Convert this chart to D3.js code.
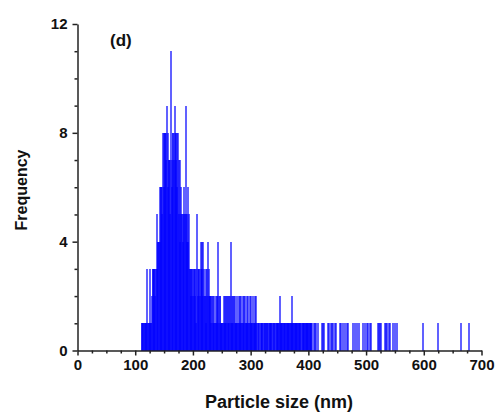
<!DOCTYPE html>
<html>
<head>
<meta charset="utf-8">
<script src="https://cdn.jsdelivr.net/npm/d3@7"></script>
<style>
  body { margin: 0; background: #fff; }
  text { font-family: "Liberation Sans", Arial, sans-serif; font-weight: bold; fill: #111; }
</style>
</head>
<body>
<div class="canva"></div>
<script>
// particle size (nm) of each bin, 1 nm wide
const sizes = [
  112,113,114,115,116,117,118,119,120,121,122,123,124,125,126,127,128,129,130,
  131,132,133,134,135,136,137,138,139,140,141,142,143,144,145,146,147,148,149,150,
  151,152,153,154,155,156,157,158,159,160,161,162,163,164,165,166,167,168,169,170,
  171,172,173,174,175,176,177,178,179,180,181,182,183,184,185,186,187,188,189,190,
  191,192,193,194,195,196,197,198,199,200,201,202,203,204,205,206,207,208,209,210,
  211,212,213,214,215,216,217,218,219,220,221,222,223,224,225,226,227,228,229,230,
  231,232,233,234,235,236,237,238,239,240,241,242,243,244,245,246,247,248,249,250,
  251,252,253,254,255,256,257,258,259,260,261,262,263,264,265,266,267,268,269,270,
  271,272,273,274,275,276,277,278,279,280,281,282,283,284,285,286,287,288,289,290,
  291,292,293,294,295,296,297,298,299,300,301,302,303,304,305,306,307,308,309,310,
  311,312,313,315,316,318,319,320,321,323,324,325,326,328,329,330,
  331,332,334,335,336,337,338,340,341,342,343,344,346,347,348,349,350,
  351,352,353,354,355,356,357,358,359,360,361,362,363,364,365,366,367,368,369,370,
  371,372,373,374,375,376,377,378,379,380,381,382,383,384,385,386,387,388,390,
  391,392,393,394,395,396,397,398,399,400,401,402,403,404,405,406,408,410,
  412,414,418,424,426,428,435,437,440,442,444,447,449,456,458,461,464,467,470,
  479,482,485,488,496,499,502,505,508,510,521,523,525,527,533,535,537,540,542,
  548,551,555,599,625,666,679
];

// frequency of each bin
const counts = [
  1,1,1,1,1,1,1,1,1,3,1,1,1,1,1,3,1,1,2,
  3,3,3,3,2,3,3,5,3,4,4,4,6,4,6,6,5,6,8,8,
  6,8,8,7,8,9,8,6,7,7,5,7,11,7,6,8,8,7,8,9,
  8,7,8,6,8,7,5,7,4,5,6,5,4,5,6,5,5,9,5,4,
  5,6,4,5,3,3,2,3,3,3,2,3,3,2,3,1,3,5,3,2,
  3,3,2,4,3,4,3,4,2,3,2,2,1,3,2,3,4,2,3,2,
  2,1,2,2,1,2,1,2,1,2,1,2,1,2,4,1,2,2,1,1,
  1,1,1,1,2,1,2,2,1,2,1,2,2,1,2,1,4,2,1,2,
  1,2,1,2,1,1,2,1,1,1,2,1,2,1,2,1,2,1,2,1,
  2,1,1,2,1,2,1,1,2,1,1,2,1,1,2,1,1,2,1,1,
  2,1,1,1,1,1,1,1,1,1,1,1,1,1,1,1,
  1,1,1,1,1,1,1,1,1,1,1,1,1,1,1,1,1,
  2,1,1,1,1,1,1,1,1,1,1,1,1,1,1,1,1,1,1,1,
  1,2,1,1,1,1,1,1,1,1,1,1,1,1,1,1,1,1,1,
  1,1,1,1,1,1,1,1,1,1,1,1,1,1,1,1,1,1,
  1,1,1,1,1,1,1,1,1,1,1,1,1,1,1,1,1,1,1,
  1,1,1,1,1,1,1,1,1,1,1,1,1,1,1,1,1,1,1,
  1,1,1,1,1,1,1
];

const xMajor = [0, 100, 200, 300, 400, 500, 600, 700];
const xMinor = [25, 50, 75, 125, 150, 175, 225, 250, 275, 325, 350, 375, 425, 450, 475, 525, 550, 575, 625, 650, 675];
const yMajor = [0, 4, 8, 12];
const yMinor = [1, 2, 3, 5, 6, 7, 9, 10, 11];

const data = sizes.map((s, i) => ({size: s, freq: counts[i]}));

const width = 498, height = 413;

const svg = d3.select(".canva").append("svg")
    .attr("width", width)
    .attr("height", height);

const x = d3.scaleLinear().domain([0, 700]).range([77.5, 481.5]);
const y = d3.scaleLinear().domain([0, 12]).range([350.5, 24]);

// each bin drawn as a 2px translucent column; runs of bins pile up to solid blue
svg.append("g")
  .selectAll("rect")
  .data(data)
  .enter().append("rect")
    .attr("x", d => Math.floor(x(d.size)) - 1)
    .attr("y", d => Math.round(y(d.freq)))
    .attr("width", 2)
    .attr("height", d => Math.round(y(0)) - Math.round(y(d.freq)))
    .attr("shape-rendering", "crispEdges")
    .attr("fill", "#0000ff")
    .attr("fill-opacity", 0.62);

// minor ticks
svg.append("g")
    .attr("transform", `translate(0, ${y(0)})`)
    .call(d3.axisBottom(x).tickValues(xMinor).tickSize(3).tickFormat(""))
    .call(g => g.select(".domain").remove());
svg.append("g")
    .attr("transform", `translate(${x(0)}, 0)`)
    .call(d3.axisLeft(y).tickValues(yMinor).tickSize(3).tickFormat(""))
    .call(g => g.select(".domain").remove());

const xAxis = svg.append("g")
    .attr("transform", `translate(0, ${y(0)})`)
    .call(d3.axisBottom(x).tickValues(xMajor).tickSize(5).tickSizeOuter(0).tickPadding(4));

const yAxis = svg.append("g")
    .attr("transform", `translate(${x(0)}, 0)`)
    .call(d3.axisLeft(y).tickValues(yMajor).tickSize(5).tickSizeOuter(0).tickPadding(5));

svg.selectAll(".tick text").attr("font-size", 15).attr("font-family", null);
svg.selectAll(".domain, .tick line").attr("stroke", "#222").attr("stroke-width", 1.5);

svg.append("text")
    .attr("x", 279)
    .attr("y", 408)
    .attr("text-anchor", "middle")
    .attr("font-size", 18)
    .text("Particle size (nm)");

svg.append("text")
    .attr("transform", "translate(27, 190) rotate(-90)")
    .attr("text-anchor", "middle")
    .attr("font-size", 16)
    .text("Frequency");

svg.append("text")
    .attr("x", 110)
    .attr("y", 46)
    .attr("font-size", 17)
    .text("(d)");
</script>
</body>
</html>
